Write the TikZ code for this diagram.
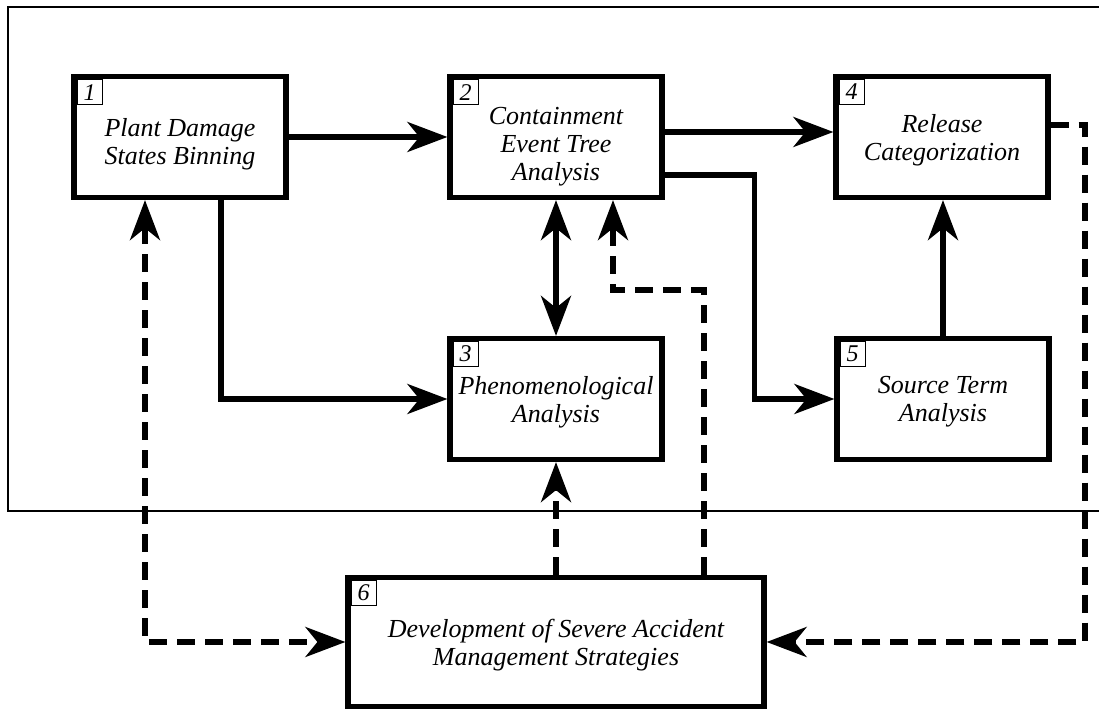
\documentclass[tikz,border=0pt]{standalone}
\usepackage{fontspec}
\setmainfont{Liberation Serif}
\usetikzlibrary{arrows.meta}
\newcommand{\shiftdown}[2]{\raisebox{-#1}[\height][\depth]{#2}}

\begin{document}
\begin{tikzpicture}[x=0.5pt,y=-0.5pt,
	>={Stealth[length=20pt,width=15pt,inset=6pt]},
	box/.style={draw=black, line width=2.6pt, minimum width=106pt, minimum height=60.5pt, inner sep=0pt, text depth=0pt, align=center, font=\itshape\fontsize{13pt}{14pt}\selectfont},
	numbox/.style={draw=black, line width=0.5pt, minimum size=12.5pt, inner sep=0pt, anchor=north west, font=\itshape\fontsize{12pt}{12pt}\selectfont},
	solidline/.style={black, line width=2.6pt},
	dashline/.style={black, line width=2.6pt, dash pattern=on 9pt off 5pt},
	frameline/.style={black, line width=0.8pt}]
	\useasboundingbox (0,0) rectangle (1099,710);
	\draw[frameline] (1099,7) -- (8,7) -- (8,511) -- (1099,511);

	\node[box] at (180,137) (b_1) {\shiftdown{2pt}{Plant Damage}\\\shiftdown{2pt}{States Binning}};
	\node[box] at (556,137) (b_2) {\shiftdown{3.5pt}{Containment}\\\shiftdown{3.5pt}{Event Tree}\\\shiftdown{3.5pt}{Analysis}};
	\node[box] at (556,399) (b_3) {Phenomenological\\Analysis};
	\node[box] at (942,137) (b_4) {Release\\Categorization};
	\node[box] at (943,399) (b_5) {Source Term\\Analysis};
	\node[box, minimum width=208pt, minimum height=64.5pt] at (556,642) (b_6) {Development of Severe Accident\\Management Strategies};

	\node[numbox] at ([shift={(2.6pt,-2.6pt)}]b_1.north west) (n_1) {1};
	\node[numbox] at ([shift={(2.6pt,-2.6pt)}]b_2.north west) (n_2) {2};
	\node[numbox] at ([shift={(2.6pt,-2.6pt)}]b_3.north west) (n_3) {3};
	\node[numbox] at ([shift={(2.6pt,-2.6pt)}]b_4.north west) (n_4) {4};
	\node[numbox] at ([shift={(2.6pt,-2.6pt)}]b_5.north west) (n_5) {5};
	\node[numbox] at ([shift={(2.6pt,-2.6pt)}]b_6.north west) (n_6) {6};

	\coordinate (k_1) at (704,290);
	\coordinate (k_2) at (1085,125);

	\draw[solidline,->] (b_1) -- (b_2);
	\draw[solidline,->] ([yshift=2.5pt]b_2.east) -- ([yshift=2.5pt]b_4.west);
	\draw[solidline,->] ([yshift=-19pt]b_2.east) -- ++(45pt,0) |- (b_5.west);
	\draw[solidline,->] ([xshift=20.5pt]b_1.south) |- (b_3.west);
	\draw[solidline,<->] (b_2) -- (b_3);
	\draw[solidline,->] (b_5.north) -- (b_5.north |- b_4.south);

	\draw[dashline,->] (b_6) -- (b_3);
	\draw[dashline,->] (b_6.north -| k_1) -- (k_1) -| ([xshift=28.5pt]b_2.south);
	\draw[dashline,<->] ([xshift=-17.5pt]b_1.south) |- (b_6.west);
	\draw[dashline,->] (b_4.east |- k_2) -- (k_2) |- (b_6.east);
\end{tikzpicture}
\end{document}
